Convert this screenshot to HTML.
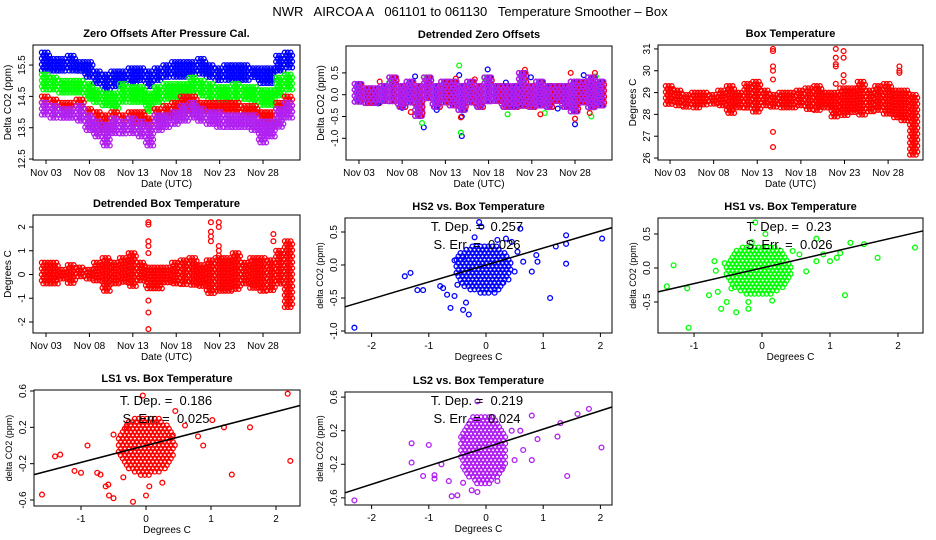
<!DOCTYPE html>
<html><head><meta charset="utf-8"><style>
html,body{margin:0;padding:0;background:#fff;}
svg{display:block;font-family:"Liberation Sans",sans-serif;}
svg text{white-space:pre;}
.t{font-size:11px;font-weight:bold;text-anchor:middle;}
.tk{font-size:10px;}
</style></head><body>
<svg id="fig" width="936" height="540" viewBox="0 0 936 540">
<text x="470" y="16" font-size="13" text-anchor="middle">NWR   AIRCOA A   061101 to 061130   Temperature Smoother – Box</text>
</svg>
<script>
// ---- data ----
const days = [3,4,5,6,7,8,9,10,11,12,13,14,15,16,17,18,19,20,21,22,23,24,25,26,27,28,29,30,31];
const dateTicks = [3,8,13,18,23,28];
const dateLabels = ["Nov 03","Nov 08","Nov 13","Nov 18","Nov 23","Nov 28"];
const hs2Lo=[15.3,15.3,15.3,15.3,15.3,15.1,14.9,14.7,14.8,14.9,14.9,15.0,14.8,15.0,15.1,15.1,15.1,15.2,15.2,15.1,15.0,15.0,15.0,15.0,15.1,14.9,14.9,15.3,15.4];
const hs2Hi=[15.9,15.7,15.7,15.8,15.6,15.6,15.3,15.2,15.3,15.3,15.4,15.4,15.3,15.4,15.5,15.6,15.6,15.6,15.7,15.5,15.4,15.5,15.5,15.5,15.4,15.4,15.4,15.8,15.9];
const hs1Lo=[14.7,14.7,14.6,14.6,14.6,14.4,14.3,14.2,14.1,14.3,14.3,14.3,14.0,14.3,14.4,14.4,14.5,14.6,14.5,14.4,14.4,14.3,14.4,14.4,14.3,14.2,14.2,14.5,14.7];
const hs1Hi=[15.2,15.1,15.0,15.0,15.0,14.9,14.7,14.6,14.6,14.9,14.8,14.8,14.6,14.8,14.9,14.9,14.9,15.1,15.0,14.9,14.8,14.8,14.9,14.8,14.8,14.7,14.7,15.1,15.2];
const ls1Lo=[14.2,14.1,14.1,14.1,14.1,13.8,13.6,13.4,13.6,13.6,13.6,13.6,13.4,13.7,13.8,13.9,14.0,14.0,14.0,14.0,14.0,14.0,14.0,13.9,13.9,13.6,13.6,13.9,14.0];
const ls1Hi=[14.5,14.4,14.3,14.3,14.4,14.1,14.0,13.9,14.0,13.9,14.0,14.0,13.8,14.1,14.2,14.3,14.5,14.5,14.3,14.3,14.3,14.3,14.3,14.2,14.2,14.0,14.0,14.3,14.5];
const ls2Lo=[13.9,13.8,13.8,13.8,13.7,13.4,13.2,12.9,13.3,13.3,13.3,13.2,12.9,13.4,13.5,13.6,13.7,13.8,13.7,13.6,13.5,13.5,13.5,13.5,13.4,13.0,13.2,13.5,13.8];
const ls2Hi=[14.3,14.2,14.1,14.1,14.2,13.9,13.7,13.6,13.8,13.7,13.8,13.7,13.6,13.9,13.9,14.0,14.2,14.3,14.1,14.0,14.0,13.9,13.9,13.9,13.9,13.7,13.7,14.1,14.3];
const detLo=[-0.2,-0.2,-0.2,-0.2,-0.2,-0.3,-0.2,-0.5,-0.1,-0.3,-0.2,-0.3,-0.4,-0.2,-0.3,-0.2,-0.2,-0.3,-0.3,-0.3,-0.3,-0.3,-0.3,-0.2,-0.3,-0.4,-0.2,-0.3,-0.3];
const detHi=[0.25,0.15,0.15,0.2,0.4,0.2,0.3,0.2,0.4,0.2,0.3,0.3,0.2,0.3,0.2,0.4,0.2,0.2,0.2,0.5,0.2,0.3,0.2,0.2,0.2,0.3,0.3,0.4,0.3];
const detBlueOut=[[9.5,0.42],[10.5,-0.75],[14.9,-0.95],[14.6,0.45],[17.9,0.58],[22.9,0.4],[28,-0.68],[5.2,-0.2],[29,0.45],[14.9,-0.5],[8,-0.3],[12,-0.35],[20,0.28],[26,-0.32]];
const detGreenOut=[[14.6,0.67],[14.8,-0.87],[10.3,-0.65],[20.2,-0.45],[29.9,-0.5],[30.4,0.42],[17.5,0.38],[24.5,-0.42],[10.8,0.4],[6.5,0.28],[22,0.35]];
const detRedOut=[[5.4,0.3],[16.4,0.35],[22.2,0.57],[27.5,0.5],[28,-0.55],[14.8,-0.52],[30.3,0.5],[29.7,-0.42],[14.2,0.37],[9,-0.4],[24,-0.45]];
const boxLo=[28.4,28.3,28.3,28.3,28.4,28.4,28.4,28.0,28.3,28.3,28.1,28.3,28.3,28.2,28.3,28.3,28.2,28.2,28.3,27.9,27.9,28.0,27.9,28.1,28.1,28.0,27.8,27.6,26.1];
const boxHi=[29.3,29.1,28.9,29.0,29.0,28.9,29.1,29.3,29.0,29.4,29.5,29.1,28.9,29.0,29.0,29.1,29.2,29.3,29.0,29.0,29.2,29.2,29.5,29.1,29.3,29.4,29.1,29.1,28.9];
const boxOut=[[14.8,31.0],[14.8,30.9],[14.8,30.2],[14.8,30.0],[14.8,29.6],[14.8,27.2],[14.8,26.5],[22,31.0],[22,30.6],[22,30.3],[22,30.2],[22,29.4],[22.9,30.9],[22.9,30.6],[22.9,29.8],[22.9,29.5],[29.3,30.2],[29.3,30.0],[29.3,29.9]];
const dboxLo=[-0.4,-0.4,-0.3,-0.4,-0.2,-0.2,-0.3,-0.7,-0.5,-0.4,-0.6,-0.3,-0.7,-0.6,-0.4,-0.4,-0.5,-0.5,-0.5,-0.9,-0.8,-0.7,-0.7,-0.5,-0.6,-0.7,-0.7,-0.5,-1.4];
const dboxHi=[0.5,0.5,0.2,0.4,0.3,0.2,0.5,0.7,0.5,0.7,0.9,0.5,0.3,0.3,0.3,0.5,0.6,0.7,0.4,0.6,0.7,0.7,0.9,0.5,0.7,0.7,0.6,1.0,1.4];
const dboxOut=[[14.8,2.2],[14.8,2.1],[14.8,1.4],[14.8,1.2],[14.8,0.9],[14.8,-1.1],[14.8,-1.6],[14.8,-2.3],[22,2.2],[22,1.8],[22,1.6],[22,1.4],[22.9,2.2],[22.9,2.0],[22.9,1.2],[22.9,1.0],[22.9,0.8],[29.2,1.7],[29.2,1.4]];
const hs2Pts=[[-2.3,-0.95],[-1.42,-0.17],[-1.32,-0.12],[-1.2,-0.38],[-1.1,-0.38],[-0.8,-0.32],[-0.75,-0.35],[-0.68,-0.45],[-0.62,-0.65],[-0.55,-0.47],[-0.4,-0.68],[-0.35,-0.57],[-0.3,-0.75],[-0.55,0.07],[-0.4,0.12],[-0.12,0.65],[-0.08,0.58],[0.15,-0.42],[0.3,-0.27],[0.6,0.55],[0.8,-0.1],[0.9,0.05],[0.88,0.15],[1.12,-0.5],[1.22,0.28],[1.4,0.45],[1.4,0.32],[1.4,0.02],[2.03,0.4],[0.5,-0.1],[0.65,0.05],[0.45,0.35],[0.35,0.4],[-0.5,-0.3],[0.55,0.2],[-0.2,0.42],[0.2,0.38]];
const hs1Pts=[[-1.4,-0.27],[-1.3,0.04],[-1.1,-0.3],[-1.08,-0.88],[-0.78,-0.4],[-0.7,0.1],[-0.68,-0.04],[-0.65,-0.35],[-0.6,-0.6],[-0.55,0.07],[-0.52,-0.5],[-0.38,-0.65],[-0.2,-0.6],[-0.2,-0.5],[-0.1,0.67],[0.05,0.5],[0.15,-0.48],[0.55,0.2],[0.65,-0.05],[0.8,0.1],[0.8,0.43],[0.9,0.2],[1.0,0.1],[1.1,0.15],[1.15,0.22],[1.22,-0.4],[1.3,0.37],[1.5,0.35],[1.7,0.15],[2.25,0.3],[-0.45,-0.3],[0.45,0.25],[-0.15,0.38]];
const ls1Pts=[[-1.6,-0.54],[-1.4,-0.12],[-1.32,-0.1],[-1.1,-0.28],[-1.0,-0.3],[-0.9,0.0],[-0.75,-0.3],[-0.7,-0.32],[-0.62,-0.45],[-0.58,-0.43],[-0.57,-0.55],[-0.5,-0.58],[-0.5,0.12],[-0.2,-0.62],[0.0,-0.55],[-0.05,0.55],[0.05,-0.45],[0.25,-0.41],[0.6,0.22],[0.88,0.0],[1.02,0.28],[1.2,0.2],[1.32,-0.32],[1.6,0.2],[2.18,0.57],[2.22,-0.17],[0.45,0.38],[0.8,0.1],[-0.35,-0.35],[0.4,0.1],[-0.3,0.2]];
const ls2Pts=[[-2.3,-0.63],[-1.3,0.05],[-1.3,-0.18],[-1.1,-0.34],[-1.0,0.03],[-0.9,-0.33],[-0.9,-0.37],[-0.78,-0.2],[-0.65,-0.4],[-0.6,-0.58],[-0.5,-0.57],[-0.4,-0.42],[-0.25,-0.51],[-0.15,-0.53],[-0.15,0.55],[0.2,-0.4],[0.28,-0.26],[0.65,-0.03],[0.8,0.38],[0.8,-0.15],[0.9,0.1],[1.25,0.13],[1.3,0.29],[1.42,-0.34],[1.6,0.4],[1.8,0.46],[2.02,0.0],[0.5,-0.15],[0.6,0.2],[-0.4,0.1],[0.45,0.2]];
// core clouds: [centerX, centerY, radiusX, radiusY]
const hs2Core=[-0.05,-0.05,0.5,0.38];
const hs1Core=[-0.05,-0.03,0.5,0.38];
const ls1Core=[0.0,0.0,0.45,0.33];
const ls2Core=[-0.05,-0.02,0.42,0.42];
const slopes=[0.257,0.23,0.186,0.219];
const stdErrs=["0.026","0.026","0.025","0.024"];
const slopeLabels=["0.257","0.23","0.186","0.219"];

// ---- drawing ----
const NS="http://www.w3.org/2000/svg";
const svg=document.getElementById('fig');
function el(tag,attrs,parent){const e=document.createElementNS(NS,tag);for(const k in attrs)e.setAttribute(k,attrs[k]);(parent||svg).appendChild(e);return e;}
function panel(name,box,xd,yd){
  const [x0,y0,x1,y1]=box;
  const g=el('g',{});
  
  
  const sx=v=>x0+(v-xd[0])/(xd[1]-xd[0])*(x1-x0);
  const sy=v=>y1-(v-yd[0])/(yd[1]-yd[0])*(y1-y0);
  return {g,sx,sy,box};
}
function frame(p,title,xt,xl,yt,yl,xlab,ylab,ylabSize){
  const [x0,y0,x1,y1]=p.box;
  const f=el('rect',{x:x0,y:y0,width:x1-x0,height:y1-y0,fill:'none',stroke:'#000','stroke-width':1},p.g);
  
  
  const t=el('text',{x:(x0+x1)/2,y:y0-8,class:'t'},p.g);t.textContent=title;
  
  
  xt.forEach((v,i)=>{const x=p.sx(v);el('line',{x1:x,x2:x,y1:y1,y2:y1+4,stroke:'#000'},p.g);
    const tx=el('text',{x:x,y:y1+16,class:'tk','text-anchor':'middle'},p.g);tx.textContent=xl[i];
    
    });
  yt.forEach((v,i)=>{const y=p.sy(v);el('line',{x1:x0-4,x2:x0,y1:y,y2:y,stroke:'#000'},p.g);
    const ty=el('text',{x:x0-8,y:y,class:'tk','text-anchor':'middle',transform:`rotate(-90 ${x0-8} ${y})`},p.g);ty.textContent=yl[i];
    
    });
  const xa=el('text',{x:(x0+x1)/2,y:y1+27,class:'tk','text-anchor':'middle'},p.g);xa.textContent=xlab;
  
  
  const ya=el('text',{x:x0-22,y:(y0+y1)/2,'font-size':ylabSize||10,'text-anchor':'middle',transform:`rotate(-90 ${x0-22} ${(y0+y1)/2})`},p.g);ya.textContent=ylab;
  
  
}
function ranges(p,lo,hi,c,name,step){
  step=step||3;
  const g=el('g',{},p.g);
  
  
  days.forEach((d,i)=>{const xa=p.sx(d-0.5),xb=p.sx(d+0.5);const ya=p.sy(hi[i]),yb=p.sy(lo[i]);
    let row=0;
    for(let y=ya;y<=yb;y+=3,row++)for(let x=xa+(row%2)*step/2;x<xb;x+=step){el('circle',{cx:x.toFixed(1),cy:y.toFixed(1),r:2.3,fill:'none',stroke:c,'stroke-width':1.3},g);}});
}
function pts(p,arr,c,name){
  const g=el('g',{},p.g);
  
  
  arr.forEach(a=>{el('circle',{cx:p.sx(a[0]).toFixed(1),cy:p.sy(a[1]).toFixed(1),r:2.4,fill:'none',stroke:c,'stroke-width':1.3},g);});
}
function core(p,cr,c,name){
  const g=el('g',{},p.g);
  
  
  const cx=p.sx(cr[0]),cy=p.sy(cr[1]),rx=p.sx(cr[0]+cr[2])-cx,ry=cy-p.sy(cr[1]+cr[3]);
  let row=0;
  for(let y=cy-ry;y<=cy+ry;y+=3.3,row++)for(let x=cx-rx+(row%2)*2;x<=cx+rx;x+=4){const q=((x-cx)/rx)**2+((y-cy)/ry)**2;if(q<=1)el('circle',{cx:x.toFixed(1),cy:y.toFixed(1),r:2.4,fill:'none',stroke:c,'stroke-width':1.3},g);}
}
function fit(p,i,xd){
  const l=el('line',{x1:p.sx(xd[0]),y1:p.sy(slopes[i]*xd[0]),x2:p.sx(xd[1]),y2:p.sy(slopes[i]*xd[1]),stroke:'#000','stroke-width':1.5},p.g);
  
  
}
function stats(p,i,cx,ty){
  const a=el('text',{x:cx,y:ty,'font-size':13,'text-anchor':'middle'},p.g);a.textContent='T. Dep. =  '+slopeLabels[i];
  
  
  const b=el('text',{x:cx,y:ty+18,'font-size':13,'text-anchor':'middle'},p.g);b.textContent='S. Err. =  '+stdErrs[i];
  
  
}
const dateX=[1.5,32.26];
const BLUE='#0000ff',GREEN='#00ff00',RED='#ff0000',PUR='#b020f0';
// Panel 1
let p=panel('zero-offsets-panel',[33,45,300,160],dateX,[12.47,16.14]);
ranges(p,hs2Lo,hs2Hi,BLUE,'hs2-series');ranges(p,hs1Lo,hs1Hi,GREEN,'hs1-series');ranges(p,ls1Lo,ls1Hi,RED,'ls1-series');ranges(p,ls2Lo,ls2Hi,PUR,'ls2-series');
frame(p,'Zero Offsets After Pressure Cal.',dateTicks,dateLabels,[12.5,13.5,14.5,15.5],['12.5','13.5','14.5','15.5'],'Date (UTC)','Delta CO2 (ppm)');
// Panel 2
p=panel('detrended-offsets-panel',[346,46,612,160],[1.5,32.28],[-1.498,1.117]);
ranges(p,detLo,detHi,BLUE,'det-hs2',3);ranges(p,detLo,detHi,RED,'det-ls1',5);pts(p,detBlueOut,BLUE,'det-hs2-outliers');pts(p,detGreenOut,GREEN,'det-hs1-outliers');pts(p,detRedOut,RED,'det-ls1-outliers');ranges(p,detLo,detHi,PUR,'det-ls2',3.5);
frame(p,'Detrended Zero Offsets',dateTicks,dateLabels,[-1,-0.5,0,0.5],['-1.0','-0.5','0.0','0.5'],'Date (UTC)','Delta CO2 (ppm)');
// Panel 3
p=panel('box-temperature-panel',[658,45,923,160],[1.62,32.0],[25.91,31.18]);
ranges(p,boxLo,boxHi,RED,'box-temp-series');pts(p,boxOut,RED,'box-temp-spikes');
frame(p,'Box Temperature',dateTicks,dateLabels,[26,27,28,29,30,31],['26','27','28','29','30','31'],'Date (UTC)','Degrees C');
// Panel 4
p=panel('detrended-box-temp-panel',[33,215,300,333],dateX,[-2.463,2.505]);
ranges(p,dboxLo,dboxHi,RED,'dbox-series');pts(p,dboxOut,RED,'dbox-spikes');
frame(p,'Detrended Box Temperature',dateTicks,dateLabels,[-2,-1,0,1,2],['-2','-1','0','1','2'],'Date (UTC)','Degrees C');
// HS2
let xd=[-2.465,2.203];
p=panel('hs2-scatter-panel',[345,218,612,333],xd,[-1.03,0.712]);
core(p,hs2Core,BLUE,'hs2-cloud');pts(p,hs2Pts,BLUE,'hs2-points');fit(p,0,xd);stats(p,0,477,231);
frame(p,'HS2 vs. Box Temperature',[-2,-1,0,1,2],['-2','-1','0','1','2'],[-1,-0.5,0,0.5],['-1.0','-0.5','0.0','0.5'],'Degrees C','delta CO2 (ppm)',9);
// HS1
xd=[-1.53,2.368];
p=panel('hs1-scatter-panel',[658,218,923,333],xd,[-0.956,0.735]);
core(p,hs1Core,GREEN,'hs1-cloud');pts(p,hs1Pts,GREEN,'hs1-points');fit(p,1,xd);stats(p,1,789,231);
frame(p,'HS1 vs. Box Temperature',[-1,0,1,2],['-1','0','1','2'],[-0.5,0,0.5],['-0.5','0.0','0.5'],'Degrees C','delta CO2 (ppm)',9);
// LS1
xd=[-1.723,2.369];
p=panel('ls1-scatter-panel',[34,390,300,506],xd,[-0.666,0.611]);
core(p,ls1Core,RED,'ls1-cloud');pts(p,ls1Pts,RED,'ls1-points');fit(p,2,xd);stats(p,2,166,405);
frame(p,'LS1 vs. Box Temperature',[-1,0,1,2],['-1','0','1','2'],[-0.6,-0.2,0.2,0.6],['-0.6','-0.2','0.2','0.6'],'Degrees C','delta CO2 (ppm)',9);
// LS2
xd=[-2.465,2.203];
p=panel('ls2-scatter-panel',[345,392,612,505],xd,[-0.685,0.661]);
core(p,ls2Core,PUR,'ls2-cloud');pts(p,ls2Pts,PUR,'ls2-points');fit(p,3,xd);stats(p,3,477,405);
frame(p,'LS2 vs. Box Temperature',[-2,-1,0,1,2],['-2','-1','0','1','2'],[-0.6,-0.2,0.2,0.6],['-0.6','-0.2','0.2','0.6'],'Degrees C','delta CO2 (ppm)',9);
</script>
</body></html>
